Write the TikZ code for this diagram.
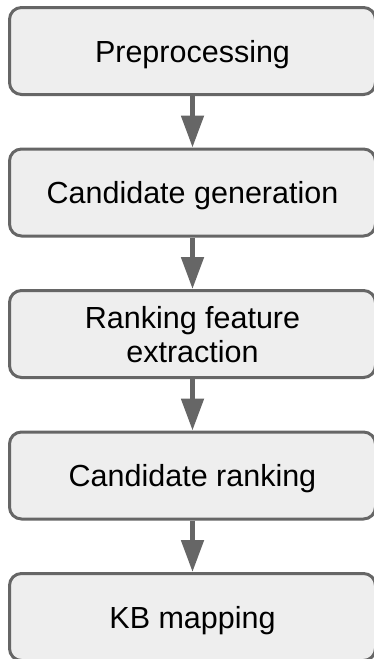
\documentclass[tikz,border=0pt]{standalone}
\usepackage{fontspec}
\setmainfont{Liberation Sans}
\usepackage{tikz}
\usetikzlibrary{arrows.meta, positioning}
\usepackage{xcolor}
\definecolor{DarkGray}{HTML}{666666}
\definecolor{LiteGray}{HTML}{EEEEEE}
\tikzset{%
  stage/.style={%
    rectangle,%
    rounded corners=12pt,%
    draw=DarkGray,%
    line width=3pt,%
    fill=LiteGray,%
    minimum width=366pt,%
    minimum height=87pt,%
    text depth=0pt,%
    font={\fontsize{30.5}{34}\selectfont},%
    align=center%
  },
  flow_path/.style={%
    color=DarkGray,%
    line width=5pt,%
  },
  arrow/.style={-{Triangle[length=32pt, width=22pt]}},
}

\begin{document}
\begin{tikzpicture}[x=1pt, y=1pt]
    \useasboundingbox (0,0) rectangle (373,-659);
    \node [stage] (Prep) at (192.5,-51) {Preprocessing};
    \node [stage, below = 51.5 of Prep] (CandGen) {Candidate generation};
    \node [stage, below = 51.5 of CandGen] (RankFeat) {Ranking feature\\extraction};
    \node [stage, below = 51.5 of RankFeat] (CandRank) {Candidate ranking};
    \node [stage, below = 51.5 of CandRank] (KBMap) {KB mapping};

    \draw [arrow, flow_path]
      (Prep.south)
      --
      (CandGen.north);
    \draw [arrow, flow_path]
      (CandGen.south)
      --
      (RankFeat.north);
    \draw [arrow, flow_path]
      (RankFeat.south)
      --
      (CandRank.north);
    \draw [arrow, flow_path]
      (CandRank.south)
      --
      (KBMap.north);
  \end{tikzpicture}
\end{document}
